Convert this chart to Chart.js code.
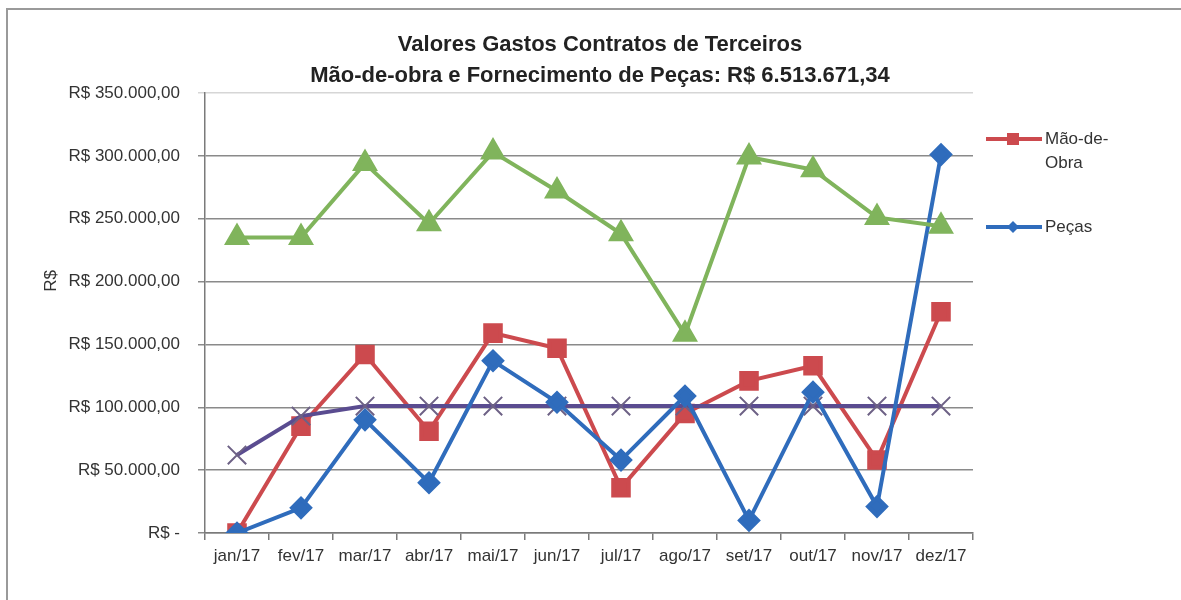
<!DOCTYPE html>
<html>
<head>
<meta charset="utf-8">
<script src="https://cdn.jsdelivr.net/npm/chart.js@4.4.1/dist/chart.umd.min.js"></script>
<style>
  html, body { margin: 0; padding: 0; background: #fff; }
  #wrap { width: 1181px; height: 600px; position: relative; }
</style>
</head>
<body>
<div id="wrap"><canvas id="grafico"></canvas></div>
<script>
// Data
const meses = ['jan/17', 'fev/17', 'mar/17', 'abr/17', 'mai/17', 'jun/17', 'jul/17', 'ago/17', 'set/17', 'out/17', 'nov/17', 'dez/17'];
const maoDeObra = [0, 85000, 142000, 81000, 159000, 147000, 36000, 95000, 121000, 133000, 58000, 176000];
const pecas = [0, 20000, 90000, 40000, 137000, 104000, 58000, 109000, 10000, 112000, 21000, 301000];
const totalMes = [235000, 235000, 294000, 246000, 303000, 272000, 238000, 158000, 299000, 289000, 251000, 244000];
const media = [62000, 93000, 101000, 101000, 101000, 101000, 101000, 101000, 101000, 101000, 101000, 101000];
const yTicks = [0, 50000, 100000, 150000, 200000, 250000, 300000, 350000];

const tituloLinhas = ['Valores Gastos Contratos de Terceiros', 'Mão-de-obra e Fornecimento de Peças: R$ 6.513.671,34'];

const corVermelho = '#cc4a4e';
const corAzul = '#2f6cbc';
const corVerde = '#80b45c';
const corRoxo = '#5a4c90';

// "R$ 350.000,00" style labels
function formatReal(v) {
    if (v === 0) return 'R$ -';
    const parts = v.toFixed(2).split('.');
    const inteiro = parts[0].replace(/\B(?=(\d{3})+(?!\d))/g, '.');
    return 'R$ ' + inteiro + ',' + parts[1];
}

// Frame, title, y-axis title and the two-entry legend
const extras = {
    id: 'extras',
    beforeDraw(chart) {
        const ctx = chart.ctx;
        ctx.save();
        ctx.fillStyle = '#fff';
        ctx.fillRect(0, 0, chart.width, chart.height);
        ctx.strokeStyle = '#9a9a9a';
        ctx.lineWidth = 2;
        ctx.beginPath();
        ctx.moveTo(7, chart.height);
        ctx.lineTo(7, 9);
        ctx.lineTo(chart.width, 9);
        ctx.stroke();
        ctx.restore();
    },
    afterDraw(chart) {
        const ctx = chart.ctx;

        // title (centred on the page, not on the plot)
        ctx.save();
        ctx.fillStyle = '#222';
        ctx.font = 'bold 22px "Liberation Sans", Arial, sans-serif';
        ctx.textAlign = 'center';
        ctx.textBaseline = 'middle';
        tituloLinhas.forEach(function (t, i) {
            ctx.fillText(t, 600, 45 + i * 31);
        });
        ctx.restore();

        ctx.save();
        ctx.fillStyle = '#333';
        ctx.font = '17px "Liberation Sans", Arial, sans-serif';
        ctx.textAlign = 'center';
        ctx.textBaseline = 'middle';
        ctx.translate(51, 281);
        ctx.rotate(-Math.PI / 2);
        ctx.fillText('R$', 0, 0);
        ctx.restore();

        // legend
        const entradas = [
            { cor: corVermelho, forma: 'rect', y: 139, linhas: ['Mão-de-', 'Obra'] },
            { cor: corAzul, forma: 'diamond', y: 227, linhas: ['Peças'] }
        ];
        entradas.forEach(function (e) {
            ctx.save();
            ctx.strokeStyle = e.cor;
            ctx.fillStyle = e.cor;
            ctx.lineWidth = 4;
            ctx.beginPath();
            ctx.moveTo(986, e.y);
            ctx.lineTo(1042, e.y);
            ctx.stroke();
            ctx.beginPath();
            if (e.forma === 'rect') {
                ctx.rect(1007, e.y - 6, 12, 12);
            } else {
                ctx.moveTo(1013, e.y - 6);
                ctx.lineTo(1019, e.y);
                ctx.lineTo(1013, e.y + 6);
                ctx.lineTo(1007, e.y);
                ctx.closePath();
            }
            ctx.fill();
            ctx.fillStyle = '#333';
            ctx.font = '17px "Liberation Sans", Arial, sans-serif';
            ctx.textAlign = 'left';
            ctx.textBaseline = 'middle';
            e.linhas.forEach(function (t, i) {
                ctx.fillText(t, 1045, e.y + i * 24);
            });
            ctx.restore();
        });
    }
};

const ctx = document.getElementById('grafico').getContext('2d');
window.myChart = new Chart(ctx, {
    type: 'line',
    data: {
        labels: meses,
        datasets: [
            {
                label: 'Total',
                data: totalMes,
                borderColor: corVerde,
                backgroundColor: corVerde,
                borderWidth: 4,
                pointStyle: 'triangle',
                pointRadius: 11,
                order: 1,
            },
            {
                label: 'Peças',
                data: pecas,
                borderColor: corAzul,
                backgroundColor: corAzul,
                borderWidth: 4,
                pointStyle: 'rectRot',
                pointRadius: 9,
                order: 2,
            },
            {
                label: 'Média',
                data: media,
                borderColor: corRoxo,
                backgroundColor: corRoxo,
                borderWidth: 4,
                pointStyle: 'crossRot',
                pointRadius: 13,
                pointBorderWidth: 2,
                pointBorderColor: '#6d6185',
                order: 3,
            },
            {
                label: 'Mão-de-Obra',
                data: maoDeObra,
                borderColor: corVermelho,
                backgroundColor: corVermelho,
                borderWidth: 4,
                pointStyle: 'rect',
                pointRadius: 11,
                order: 4,
            },
        ],
    },
    options: {
        responsive: true,
        maintainAspectRatio: false,
        animation: false,
        layout: { padding: { left: 10, right: 208, top: 93, bottom: 20 } },
        plugins: {
            legend: { display: false },
            tooltip: { enabled: false },
            title: { display: false },
        },
        scales: {
            x: {
                offset: true,
                grid: {
                    offset: true,
                    drawOnChartArea: false,
                    tickLength: 7,
                    color: '#7a7a7a',
                    lineWidth: 1.5,
                },
                border: { color: '#7a7a7a', width: 1.5 },
                ticks: {
                    color: '#333',
                    padding: 6,
                    maxRotation: 0,
                    autoSkip: false,
                    font: { family: '"Liberation Sans", Arial, sans-serif', size: 17 },
                },
                afterFit(scale) { scale.height = 47; },
            },
            y: {
                min: 0,
                max: 350000,
                afterBuildTicks(scale) {
                    scale.ticks = yTicks.map(function (v) { return { value: v }; });
                },
                grid: {
                    tickLength: 7,
                    color: function (c) { return c.tick && c.tick.value === 350000 ? '#d6d6d6' : '#8a8a8a'; },
                    lineWidth: 1.5,
                },
                border: { color: '#7a7a7a', width: 1.5 },
                ticks: {
                    color: '#333',
                    padding: 18,
                    font: { family: '"Liberation Sans", Arial, sans-serif', size: 17 },
                    callback: function (v) { return formatReal(v); },
                },
                afterFit(scale) { scale.width = 195; },
            },
        },
    },
    plugins: [extras],
});
</script>
</body>
</html>
